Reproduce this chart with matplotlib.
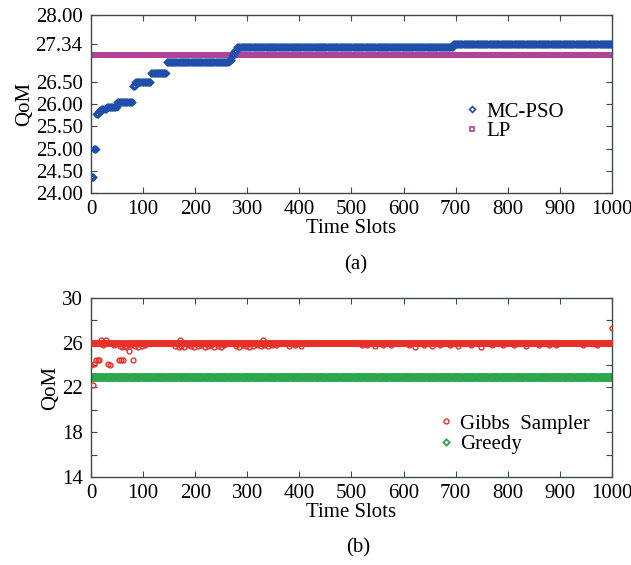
import numpy as np
import matplotlib
matplotlib.use("Agg")
import matplotlib.pyplot as plt

# ---------------- Data ----------------
# (a) MC-PSO: step function, (first slot, value)
pso_step_slot = [0, 5, 10, 15, 20, 30, 50, 80, 85, 115, 145, 265, 270, 275, 280, 695]
pso_step_value = [24.35, 25.00, 25.78, 25.85, 25.89, 25.93, 26.04, 26.40, 26.50,
                  26.70, 26.94, 27.00, 27.10, 27.20, 27.28, 27.34]
lp_value = 27.10

# (b) Gibbs sampler: settles at 26.0, with off-level samples
gibbs_base = 26.0
gibbs_slot = [0, 4, 6, 9, 13, 16, 24, 33, 36, 44, 54, 58, 62, 68, 72, 80,
              55, 60, 66, 76, 84, 90, 97, 103,
              162, 168, 173, 179, 186, 192, 198, 205, 211, 218, 224, 230, 237, 243, 250, 256,
              278, 284, 291, 297, 304, 311, 318, 326, 333, 340, 347, 355,
              380, 392, 404, 520, 530, 545, 560, 575, 610, 622, 640, 655, 670, 690, 705,
              730, 748, 770, 790, 812, 835, 860, 880, 893, 945, 972,
              20, 28, 170, 330, 1000]
gibbs_value = [24.0, 22.2, 24.1, 24.5, 24.5, 24.5, 25.8, 24.1, 24.0, 25.8, 24.5, 24.5, 24.5, 25.6, 25.3, 24.5,
               25.7, 25.6, 25.7, 25.8, 25.7, 25.6, 25.7, 25.8,
               25.7, 25.6, 25.7, 25.6, 25.8, 25.7, 25.6, 25.7, 25.8, 25.6, 25.7, 25.8, 25.6, 25.7, 25.6, 25.8,
               25.7, 25.6, 25.8, 25.7, 25.6, 25.7, 25.8, 25.7, 25.8, 25.7, 25.8, 25.8,
               25.7, 25.8, 25.7, 25.8, 25.8, 25.7, 25.8, 25.8, 25.8, 25.6, 25.8, 25.7, 25.8, 25.8, 25.7,
               25.8, 25.6, 25.8, 25.8, 25.8, 25.7, 25.8, 25.8, 25.8, 25.8, 25.8,
               26.2, 26.2, 26.2, 26.2, 27.3]
greedy_value = 22.9

slots = np.arange(0, 1001)

plt.rcParams["font.family"] = ["Liberation Serif", "DejaVu Serif"]
plt.rcParams["font.size"] = 15
spine_col = "#3d4b4b"


def style_axes(ax):
    for s in ax.spines.values():
        s.set_color(spine_col)
        s.set_linewidth(1.0)
    ax.tick_params(direction="in", length=4, color=spine_col, top=True, right=True,
                   labelsize=15)
    ax.tick_params(axis="x", pad=5)
    ax.tick_params(axis="y", pad=6)
    ax.set_xlim(0, 1000)
    ax.set_xticks(range(0, 1001, 100))


fig = plt.figure(figsize=(6.31, 5.65), dpi=100)
ax_a = fig.add_axes([0.1442, 0.6584, 0.8257, 0.315])
ax_b = fig.add_axes([0.1442, 0.1558, 0.8257, 0.3168])

# -------- (a) --------
pso = np.array(pso_step_value)[np.searchsorted(pso_step_slot, slots, side="right") - 1]
ax_a.plot(slots, pso, ls="none", marker="D", ms=3.0, mfc="none", mec="#1f4fa8",
          mew=1.2, label="MC-PSO", zorder=3)
ax_a.plot(slots, np.full(len(slots), lp_value), ls="none", marker="s", ms=3.0,
          mfc="none", mec="#b0449a", mew=1.2, label="LP", zorder=2)
style_axes(ax_a)
ax_a.set_ylim(24, 28)
ax_a.set_yticks([24, 24.5, 25, 25.5, 26, 26.5, 27.34, 28])
ax_a.set_yticklabels(["24.00", "24.50", "25.00", "25.50", "26.00", "26.50", "27.34", "28.00"])
ax_a.set_xlabel("Time Slots", labelpad=0)
ax_a.set_ylabel("QoM", labelpad=1)
ax_a.legend(loc="upper left", bbox_to_anchor=(0.70, 0.57), frameon=False, numpoints=1,
            handlelength=0.6, handletextpad=0.35, borderpad=0, labelspacing=0.0,
            fontsize=15)

# -------- (b) --------
gibbs = np.full(len(slots), gibbs_base)
idx = np.searchsorted(slots, gibbs_slot)
gibbs[idx] = gibbs_value
ax_b.plot(slots, gibbs, ls="none", marker="o", ms=3.5, mfc="none", mec="#e8302a",
          mew=1.0, label="Gibbs  Sampler", zorder=3)
ax_b.plot(slots, np.full(len(slots), greedy_value), ls="none", marker="D", ms=3.2,
          mfc="none", mec="#2aa84a", mew=1.3, label="Greedy", zorder=2)
style_axes(ax_b)
ax_b.set_ylim(14, 30)
ax_b.set_yticks(range(14, 31, 2))
ax_b.set_yticklabels([str(v) if (v - 14) % 4 == 0 else "" for v in range(14, 31, 2)])
ax_b.set_xlabel("Time Slots", labelpad=0)
ax_b.set_ylabel("QoM", labelpad=1)
ax_b.legend(loc="upper left", bbox_to_anchor=(0.65, 0.41), frameon=False, numpoints=1,
            handlelength=0.6, handletextpad=0.35, borderpad=0, labelspacing=0.05,
            fontsize=15)

fig.text(0.563, 1 - 265 / 565, "(a)", ha="center", va="center", fontsize=15)
fig.text(0.567, 1 - 548 / 565, "(b)", ha="center", va="center", fontsize=15)

fig.savefig("out.png", dpi=100)
